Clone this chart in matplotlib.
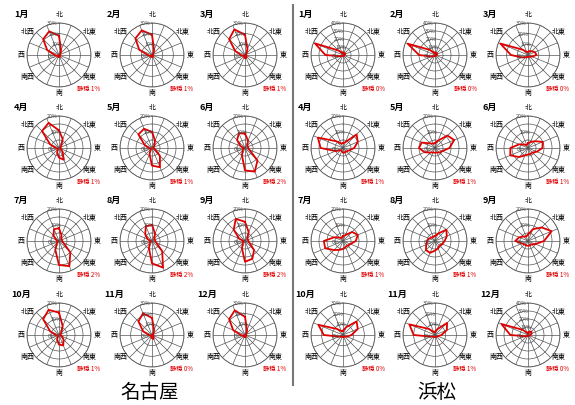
import numpy as np
import matplotlib
matplotlib.use("Agg")
import matplotlib.pyplot as plt

plt.rcParams["font.family"] = ["Noto Sans CJK JP", "DejaVu Sans"]

# -------------------------------
# Data (percent, 16 directions from N clockwise)
# -------------------------------
directions = ["N", "NNE", "NE", "ENE", "E", "ESE", "SE", "SSE",
              "S", "SSW", "SW", "WSW", "W", "WNW", "NW", "NNW"]
months = ["1月", "2月", "3月", "4月", "5月", "6月",
          "7月", "8月", "9月", "10月", "11月", "12月"]

nagoya = [
    [18, 5, 2, 1, 1, 1, 1, 2, 2, 2, 1, 2, 4, 12, 21, 24],
    [19, 5, 2, 1, 1, 1, 1, 2, 2, 2, 1, 2, 4, 13, 22, 25],
    [19, 6, 2, 1, 1, 1, 2, 3, 3, 2, 1, 2, 4, 10, 21, 26],
    [11, 6, 2, 1, 1, 1, 3, 8, 6, 3, 1, 1, 2, 6, 15, 17],
    [10, 5, 2, 1, 1, 2, 7, 13, 11, 4, 1, 1, 2, 5, 12, 13],
    [9, 5, 2, 2, 2, 3, 11, 16, 14, 5, 2, 1, 1, 3, 7, 10],
    [8, 4, 2, 2, 2, 3, 10, 17, 15, 6, 2, 1, 1, 2, 5, 8],
    [10, 5, 2, 2, 2, 3, 9, 18, 14, 5, 2, 1, 1, 3, 6, 10],
    [12, 6, 2, 2, 2, 3, 8, 12, 13, 5, 2, 1, 1, 4, 10, 15],
    [14, 6, 2, 1, 1, 2, 4, 7, 6, 3, 1, 1, 2, 6, 14, 17],
    [16, 5, 2, 1, 1, 1, 2, 4, 3, 2, 1, 1, 3, 9, 18, 22],
    [17, 5, 2, 1, 1, 1, 1, 2, 2, 2, 1, 2, 4, 12, 21, 25],
]
nagoya_max = [30, 30, 30, 20, 20, 20, 20, 20, 20, 20, 30, 30]
nagoya_calm = [1, 1, 1, 1, 1, 2, 2, 2, 2, 1, 0, 1]

hamamatsu = [
    [3, 3, 3, 3, 2, 2, 1, 1, 1, 1, 2, 4, 22, 38, 8, 3],
    [3, 3, 3, 3, 2, 2, 1, 1, 1, 1, 2, 5, 20, 37, 9, 3],
    [3, 4, 5, 7, 8, 4, 2, 2, 2, 2, 3, 6, 16, 28, 7, 3],
    [3, 4, 12, 10, 7, 4, 3, 3, 3, 2, 2, 5, 14, 17, 6, 3],
    [3, 5, 11, 13, 9, 5, 4, 3, 3, 3, 4, 7, 10, 9, 4, 3],
    [3, 4, 6, 10, 9, 6, 4, 4, 4, 5, 8, 12, 11, 6, 3, 2],
    [3, 4, 8, 10, 8, 5, 4, 4, 5, 6, 8, 12, 12, 6, 3, 2],
    [3, 5, 10, 8, 6, 5, 4, 5, 6, 8, 8, 6, 5, 4, 3, 3],
    [4, 8, 12, 16, 10, 5, 3, 3, 3, 3, 3, 4, 8, 6, 4, 3],
    [4, 8, 18, 15, 8, 4, 2, 2, 2, 2, 2, 4, 18, 25, 8, 4],
    [3, 6, 16, 12, 6, 3, 2, 2, 2, 2, 2, 4, 20, 26, 8, 3],
    [3, 4, 6, 5, 3, 2, 1, 1, 1, 1, 2, 4, 22, 36, 9, 3],
]
hamamatsu_max = [40, 40, 30, 20, 20, 20, 20, 20, 20, 30, 30, 40]
hamamatsu_calm = [0, 0, 0, 1, 1, 1, 1, 1, 1, 0, 1, 0]

compass = ["北", "北東", "東", "南東", "南", "南西", "西", "北西"]

# -------------------------------
# Layout (pixels)
# -------------------------------
W, H = 575, 405
col_x = [[59, 152, 245], [343, 435, 528]]
row_y = [55, 148, 241, 335]
R = 32
# pixel offsets of the compass labels from the rose centre
compass_off = [(0, -40), (31, -23), (38, 0), (31, 22),
               (0, 38), (-31, 22), (-38, 0), (-31, -23)]

fig = plt.figure(figsize=(W / 100, H / 100), dpi=100)
theta = np.deg2rad(np.arange(16) * 22.5)


def fx(px):
    return px / W


def fy(py):
    return 1 - py / H


def draw_rose(cx, cy, values, vmax, month, calm):
    ax = fig.add_axes([fx(cx - R), fy(cy + R), 2 * R / W, 2 * R / H],
                      projection="polar")
    ax.set_theta_zero_location("N")
    ax.set_theta_direction(-1)
    ax.set_ylim(0, vmax)
    step = 5 if vmax == 20 else 10
    ax.set_rgrids(np.arange(step, vmax + 1, step), labels=[])
    ax.set_thetagrids(np.arange(16) * 22.5, labels=[])
    ax.grid(True, color="#555555", linewidth=0.5)
    ax.spines["polar"].set_color("#555555")
    ax.spines["polar"].set_linewidth(0.6)

    v = list(values) + [values[0]]
    t = list(theta) + [theta[0]]
    ax.plot(t, v, color="#e00000", linewidth=1.3, zorder=5)

    # ring labels
    for r in range(10, vmax + 1, 10):
        ax.text(np.deg2rad(-12), r, f"{r}%", fontsize=3.8, color="#444444",
                ha="center", va="center", zorder=6)
    ax.text(np.deg2rad(-100), vmax * 0.22, "0%", fontsize=3.8,
            color="#444444", ha="center", va="center", zorder=6)

    # compass labels
    for name, (dx, dy) in zip(compass, compass_off):
        fig.text(fx(cx + dx), fy(cy + dy), name, fontsize=5,
                 ha="center", va="center")

    fig.text(fx(cx - 38), fy(cy - 41), month, fontsize=6.5,
             fontweight="bold", ha="center", va="center")
    fig.text(fx(cx + 30), fy(cy + 34), f"静穏 {calm}%", fontsize=4.5,
             color="#e00000", ha="center", va="center")


for g, (data, vmaxes, calms) in enumerate([(nagoya, nagoya_max, nagoya_calm),
                                           (hamamatsu, hamamatsu_max, hamamatsu_calm)]):
    for m in range(12):
        r, c = divmod(m, 3)
        draw_rose(col_x[g][c], row_y[r], data[m], vmaxes[m], months[m], calms[m])

# divider and titles
fig.add_artist(plt.Line2D([fx(293), fx(293)], [fy(385), fy(5)],
                          color="#777777", linewidth=1.5))
fig.text(fx(150), fy(392), "名古屋", fontsize=14, ha="center", va="center")
fig.text(fx(437), fy(392), "浜松", fontsize=14, ha="center", va="center")

fig.savefig("out.png", dpi=100)
